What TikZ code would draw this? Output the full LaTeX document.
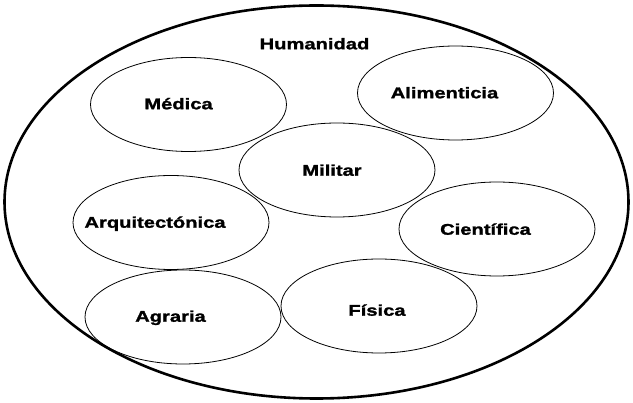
\documentclass[tikz,border=0pt]{standalone}
\usepackage{fontspec}
\setmainfont{Liberation Sans}[FakeStretch=1.3, BoldFeatures={FakeBold=1.5}]
\usetikzlibrary{shapes}

\begin{document}
\begin{tikzpicture}[x=1pt,y=-1pt]

\tikzstyle{campo}=[ellipse, draw, line width=0.8pt, inner sep=0pt,
                   minimum width=196pt, minimum height=94pt]
\tikzstyle{nombre}=[draw=none, rectangle, inner sep=0pt, minimum size=0pt,
                    text height=11.5pt, text depth=0pt,
                    font=\bfseries\fontsize{15.5}{18}\selectfont]

\useasboundingbox (0,0) rectangle (633,403);

\node[campo, line width=2.6pt, minimum width=624pt, minimum height=393pt,
      label={[nombre, xshift=-2pt, yshift=158.5pt]center:Humanidad}] (hum) at (316.5,202) {};

%{med, ali, mil, arq, cie, agr, fis}
\foreach \n/\x/\y/\dx/\dy/\t in {med/188.5/104.5/-10/1/Médica,
                                 ali/455.5/93/-11/0.5/Alimenticia,
                                 mil/337/170/-5/0/Militar,
                                 arq/171/222.5/-16/0.5/Arquitectónica,
                                 cie/497/229/-11.5/0/Científica,
                                 agr/183/317/-12.5/1/Agraria,
                                 fis/379/306/-2/-4/Física}{
  \node[campo, label={[nombre, xshift=\dx pt, yshift=\dy pt]center:\t}] (\n) at (\x,\y) {};}

\end{tikzpicture}
\end{document}
